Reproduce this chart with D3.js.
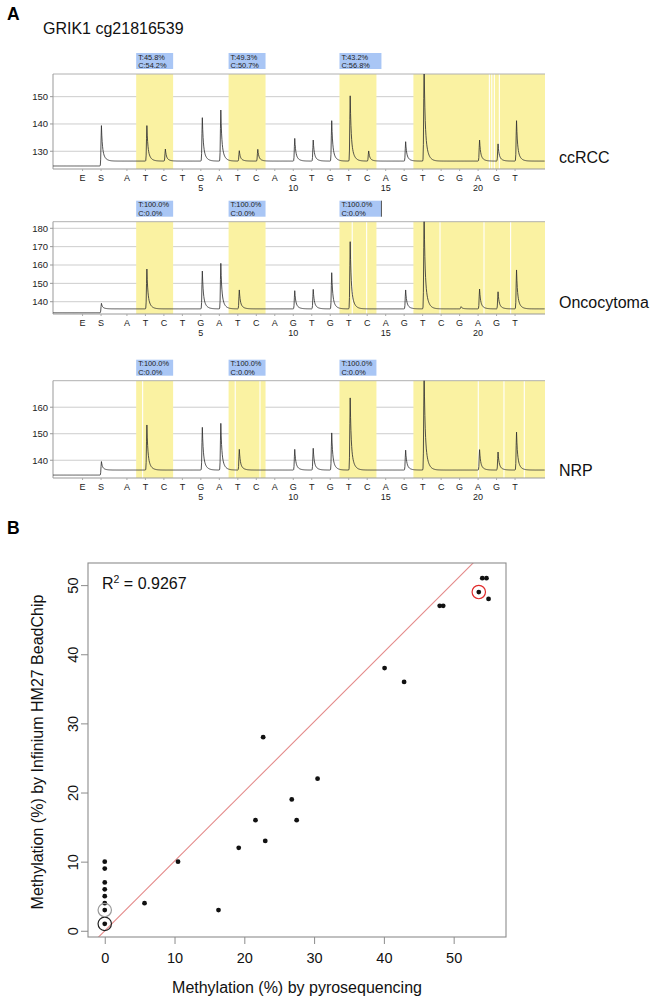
<!DOCTYPE html>
<html><head><meta charset="utf-8">
<script src="https://cdn.jsdelivr.net/npm/d3@7"></script>
<style>body{margin:0;background:#fff} svg{display:block;font-family:"Liberation Sans",Arial,Helvetica,sans-serif}</style>
</head><body><svg id="c" width="658" height="1003"></svg>
<script>
// ---------- Panel A data ----------
const dispensationLetters = ["E","S","A","T","C","T","G","A","T","C","A","G","T","G","T","C","A","G","T","C","G","A","G","T"];
const dispensationOrder  = [-1.4,-0.4,1,2,3,4,5,6,7,8,9,10,11,12,13,14,15,16,17,18,19,20,21,22];
const numberLabels = [5,10,15,20];
const cpgSites = [[2,3],[7,8],[13,14]];
const variableRegionStart = 17;
const sampleNames = ["ccRCC","Oncocytoma","NRP"];

const ccrccT = ["T:45.8%","T:49.3%","T:43.2%"];
const ccrccC = ["C:54.2%","C:50.7%","C:56.8%"];
const oncoT = ["T:100.0%","T:100.0%","T:100.0%"];
const oncoC = ["C:0.0%","C:0.0%","C:0.0%"];
const nrpT = ["T:100.0%","T:100.0%","T:100.0%"];
const nrpC = ["C:0.0%","C:0.0%","C:0.0%"];

// peak tops for dispensations 1..22 (null = no peak)
const ccrccPeaks = [null,139.4,130.8,null,142.3,145.1,130.2,130.7,null,134.7,134.1,141.2,150.3,130.1,null,133.5,162,null,null,134.1,132.7,141.2];
const oncoPeaks  = [null,157.8,null,null,156.7,160.9,146.4,null,null,146.0,146.7,155.8,172.7,null,null,146.4,188,null,137.3,146.9,145.4,157.3];
const nrpPeaks   = [null,153.3,null,null,152.4,153.9,144.1,null,null,144.1,144.5,150.3,163.5,null,null,143.8,174,null,null,144.0,143.1,150.6];
const ccrccS = 139.4, oncoS = 139.1, nrpS = 139.5;
const ccrccBase = [124.6,126.4], oncoBase = [134.0,136.1], nrpBase = [134.4,136.3];
const ccrccTicks = [130,140,150], oncoTicks = [140,150,160,170,180], nrpTicks = [140,150,160];
const ccrccDomain = [123.5,158.3], oncoDomain = [133.3,183.6], nrpDomain = [133.3,170];
const ccrccSeparators = [20.61,20.74,20.88,21.15];
const oncoSeparators = [13.19,13.97,17.94,20.32,21.76];
const nrpSeparators = [1.85,6.86,8.2,20.01,21.4,22.5];

// ---------- Panel B data ----------
const pyroValues = [0,0,0,0,0,0,0,0,5.7,10.5,16.3,19.2,21.6,22.7,23.0,26.8,27.5,30.5,40.1,42.9,48.0,48.5,53.6,54.1,54.7,55.0];
const hm27Values = [10,9,7,6,5,4,3,1,4,10,3,12,16,28,13,19,16,22,38,36,47,47,49,51,51,48];
const highlighted = [{i:7,sample:"Oncocytoma"},{i:6,sample:"NRP"},{i:22,sample:"ccRCC"}];
const regression = [-0.01,1.008];
const r2Text = "0.9267";
const xTicksB = [0,10,20,30,40,50], yTicksB = [0,10,20,30,40,50];

// ---------- drawing ----------
const svg = d3.select("#c");
const FONT = '"Liberation Sans",Arial,Helvetica,sans-serif';

svg.append("text").attr("x",7).attr("y",20).attr("font-size",17.5).attr("font-weight","bold").text("A");
svg.append("text").attr("x",43).attr("y",34).attr("font-size",16).attr("fill","#111").text("GRIK1 cg21816539");

const x = d3.scaleLinear().domain([-3,23.62]).range([53,545]);
const xL = x.range()[0], xR = x.range()[1];

const panels = [
  {name:sampleNames[0], peaks:ccrccPeaks, s:ccrccS, base:ccrccBase, ticks:ccrccTicks, domain:ccrccDomain, sep:ccrccSeparators, T:ccrccT, C:ccrccC, top:74, bottom:169, labelY:163},
  {name:sampleNames[1], peaks:oncoPeaks, s:oncoS, base:oncoBase, ticks:oncoTicks, domain:oncoDomain, sep:oncoSeparators, T:oncoT, C:oncoC, top:221.7, bottom:314, labelY:308},
  {name:sampleNames[2], peaks:nrpPeaks, s:nrpS, base:nrpBase, ticks:nrpTicks, domain:nrpDomain, sep:nrpSeparators, T:nrpT, C:nrpC, top:380.7, bottom:478, labelY:476}
];

function shape(dx){
  if (dx < 0) return Math.exp(-Math.pow(dx/0.03,2));
  return 0.6*Math.exp(-dx/0.045) + 0.4*Math.exp(-dx/0.14);
}

panels.forEach((p,pi) => {
  const g = svg.append("g");
  const y = d3.scaleLinear().domain(p.domain).range([p.bottom,p.top]);
  g.selectAll(".grid").data(p.ticks).join("line")
    .attr("x1",xL).attr("x2",xR).attr("y1",d=>y(d)).attr("y2",d=>y(d))
    .attr("stroke","#cdcdcd").attr("stroke-width",1);
  const regions = cpgSites.map(s => [s[0]-0.5, s[1]+0.5]);
  regions.push([variableRegionStart-0.5, x.domain()[1]]);
  g.selectAll(".reg").data(regions).join("rect")
    .attr("x",d=>x(d[0])).attr("width",d=>x(d[1])-x(d[0]))
    .attr("y",p.top).attr("height",p.bottom-p.top)
    .attr("fill","#faf2a2");
  g.selectAll(".sep").data(p.sep).join("line")
    .attr("x1",d=>x(d)).attr("x2",d=>x(d)).attr("y1",p.top).attr("y2",p.bottom)
    .attr("stroke","#fff").attr("stroke-width",1.1);
  cpgSites.forEach((s,i) => {
    const x0 = x(s[0]-0.5), x1 = x(s[1]+0.5) + (i===2 && pi<2 ? 5 : 0);
    g.append("rect").attr("x",x0).attr("y",p.top-21).attr("width",x1-x0).attr("height",16).attr("fill","#a9c6f5");
    if (i===2 && pi===1) g.append("line").attr("x1",x1).attr("x2",x1).attr("y1",p.top-21).attr("y2",p.top-5).attr("stroke","#555").attr("stroke-width",1);
    g.append("text").attr("x",x0+2).attr("y",p.top-14.4).attr("font-size",7.4).attr("fill","#222").text(p.T[i]);
    g.append("text").attr("x",x0+2).attr("y",p.top-6).attr("font-size",7.4).attr("fill","#222").text(p.C[i]);
  });
  g.append("line").attr("x1",xL).attr("x2",xR).attr("y1",p.top).attr("y2",p.top).attr("stroke","#b0b0b0");
  g.append("line").attr("x1",xL).attr("x2",xR).attr("y1",p.bottom).attr("y2",p.bottom).attr("stroke","#999");
  g.append("line").attr("x1",xL).attr("x2",xL).attr("y1",p.top).attr("y2",p.bottom).attr("stroke","#999");
  g.selectAll(".yt").data(p.ticks).join("line")
    .attr("x1",xL-3).attr("x2",xL).attr("y1",d=>y(d)).attr("y2",d=>y(d)).attr("stroke","#999");
  g.selectAll(".yl").data(p.ticks).join("text")
    .attr("x",xL-5).attr("y",d=>y(d)).attr("dy","0.35em").attr("text-anchor","end")
    .attr("font-size",9.5).attr("fill","#222").text(d=>d);
  g.selectAll(".xt").data(dispensationOrder).join("line")
    .attr("x1",d=>x(d)).attr("x2",d=>x(d)).attr("y1",p.bottom).attr("y2",p.bottom+2).attr("stroke","#aaa");
  const clipId = "clip"+pi;
  svg.append("clipPath").attr("id",clipId).append("rect")
    .attr("x",xL).attr("y",p.top).attr("width",xR-xL).attr("height",p.bottom-p.top);
  const sPos = dispensationOrder[1] + 0.02;
  const peakList = p.peaks.map((v,i) => v==null ? null : {pos: i+1+0.08, amp: v - p.base[1]}).filter(d=>d);
  peakList.push({pos:sPos, amp:p.s - p.base[1]});
  const xs = d3.range(x.domain()[0], x.domain()[1], 0.02);
  const pts = xs.map(xx => {
    let v = xx < sPos ? p.base[0] + (p.base[1]-p.base[0])*Math.exp(-Math.pow((xx-sPos)/0.03,2)) : p.base[1];
    peakList.forEach(pk => { v += pk.amp*shape(xx-pk.pos); });
    return [xx, v];
  });
  g.append("path").attr("clip-path",`url(#${clipId})`)
    .attr("d", d3.line().x(d=>x(d[0])).y(d=>y(d[1]))(pts))
    .attr("fill","none").attr("stroke","#333").attr("stroke-width",0.85);
  g.selectAll(".lt").data(dispensationLetters).join("text")
    .attr("x",(d,i)=>x(dispensationOrder[i])).attr("y",p.bottom+11.8)
    .attr("text-anchor","middle").attr("font-size",9).attr("fill","#1a1a1a").text(d=>d);
  g.selectAll(".nm").data(numberLabels).join("text")
    .attr("x",d=>x(d)).attr("y",p.bottom+22)
    .attr("text-anchor","middle").attr("font-size",9).attr("fill","#1a1a1a").text(d=>d);
  g.append("text").attr("x",559).attr("y",p.labelY).attr("font-size",16).attr("fill","#111").text(p.name);
});

// ---------- Panel B ----------
svg.append("text").attr("x",7).attr("y",534).attr("font-size",17.5).attr("font-weight","bold").text("B");
const bx = d3.scaleLinear().domain([-2.4,57.5]).range([88,506]);
const by = d3.scaleLinear().domain([-0.9,53.2]).range([937,563]);

svg.append("clipPath").attr("id","clipB").append("rect").attr("x",88).attr("y",563).attr("width",418).attr("height",374);
svg.append("line").attr("clip-path","url(#clipB)")
  .attr("x1",bx(bx.domain()[0])).attr("y1",by(regression[0]+regression[1]*bx.domain()[0]))
  .attr("x2",bx(bx.domain()[1])).attr("y2",by(regression[0]+regression[1]*bx.domain()[1]))
  .attr("stroke","#e48b8b").attr("stroke-width",1.1);

svg.append("rect").attr("x",88).attr("y",563).attr("width",418).attr("height",374)
  .attr("fill","none").attr("stroke","#8c8c8c").attr("stroke-width",1.1);

const xa = svg.append("g").attr("transform","translate(0,937)")
  .call(d3.axisBottom(bx).tickValues(xTicksB).tickSize(7).tickPadding(9));
xa.select(".domain").remove();
xa.selectAll("line").attr("stroke","#8c8c8c");
xa.selectAll("text").attr("font-size",14.5).attr("font-family",FONT).attr("fill","#111");

const ya = svg.append("g").attr("transform","translate(88,0)")
  .call(d3.axisLeft(by).tickValues(yTicksB).tickSize(7));
ya.select(".domain").remove();
ya.selectAll("line").attr("stroke","#8c8c8c");
ya.selectAll("text").attr("x",null).attr("dy",null).attr("y",0)
  .attr("transform","translate(-10,0) rotate(-90)").attr("text-anchor","middle")
  .attr("font-size",14.5).attr("font-family",FONT).attr("fill","#111");

svg.append("text").attr("x",297).attr("y",993).attr("text-anchor","middle").attr("font-size",16).attr("fill","#111")
  .text("Methylation (%) by pyrosequencing");
svg.append("text").attr("transform","translate(43,752) rotate(-90)").attr("text-anchor","middle").attr("font-size",16).attr("fill","#111")
  .text("Methylation (%) by Infinium HM27 BeadChip");

const r2 = svg.append("text").attr("x",102).attr("y",589).attr("font-size",16).attr("fill","#111");
r2.append("tspan").text("R");
r2.append("tspan").attr("font-size",10.5).attr("dy",-6).text("2");
r2.append("tspan").attr("dy",6).text(" = " + r2Text);

svg.selectAll(".pt").data(pyroValues).join("circle")
  .attr("cx",d=>bx(d)).attr("cy",(d,i)=>by(hm27Values[i])).attr("r",2.4).attr("fill","#111");

const hlColor = {ccRCC:"#e02b2b", Oncocytoma:"#222", NRP:"#999"};
svg.selectAll(".hl").data(highlighted).join("circle")
  .attr("cx",d=>bx(pyroValues[d.i])).attr("cy",d=>by(hm27Values[d.i])).attr("r",6.7)
  .attr("fill","none").attr("stroke",d=>hlColor[d.sample]).attr("stroke-width",1.2);
</script></body></html>
